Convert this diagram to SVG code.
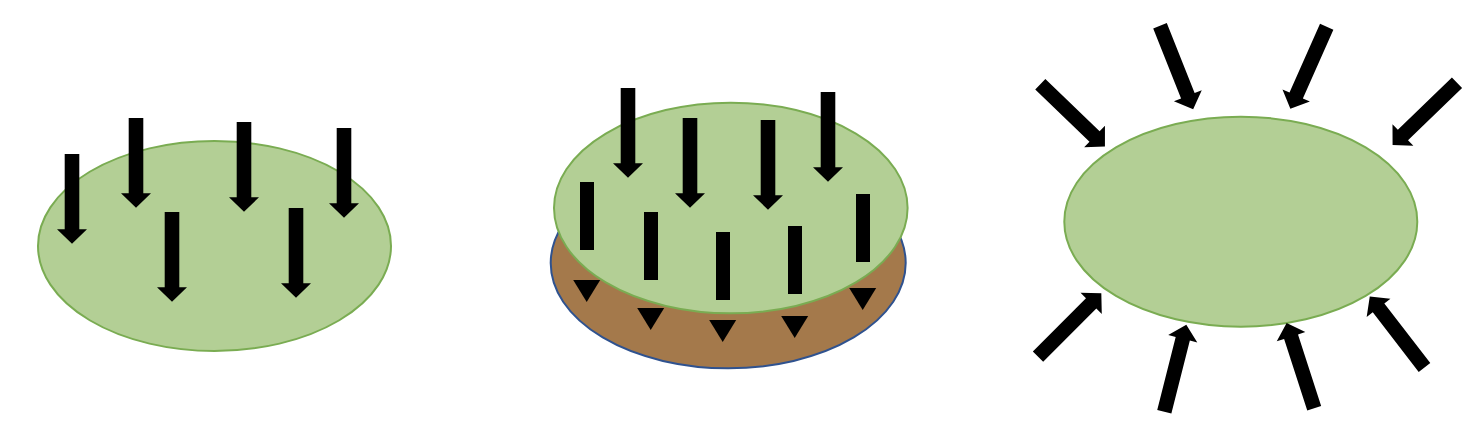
<svg xmlns="http://www.w3.org/2000/svg" xmlns:xlink="http://www.w3.org/1999/xlink" width="1468" height="426" viewBox="0 0 1468 426">
<style>
.leaf{fill:#b3cf95;stroke:#7aac52;stroke-width:2}
.soil{fill:#a4794b;stroke:#2f528f;stroke-width:2}
.blk{fill:#000}
</style>
<defs>
<path id="arr" class="blk" d="M0,-7.3 H75.3 V-15 L89.7,0 L75.3,15 V7.3 H0 Z"/>
<path id="tri" class="blk" d="M-13.5,0 H13.5 L0,22 Z"/>
</defs>
<rect width="1468" height="426" fill="#fff"/>

<g id="leaf-left">
<ellipse class="leaf" cx="214.5" cy="246" rx="176.5" ry="105"/>
<g id="left-arrows">
<use xlink:href="#arr" transform="translate(72,154) rotate(90)"/>
<use xlink:href="#arr" transform="translate(136,118) rotate(90)"/>
<use xlink:href="#arr" transform="translate(172,212) rotate(90)"/>
<use xlink:href="#arr" transform="translate(244,122) rotate(90)"/>
<use xlink:href="#arr" transform="translate(296,208) rotate(90)"/>
<use xlink:href="#arr" transform="translate(344,128) rotate(90)"/>
</g>
</g>

<g id="leaf-middle">
<ellipse class="soil" cx="728.2" cy="263" rx="177.5" ry="105.3"/>
<ellipse class="leaf" cx="730.8" cy="208" rx="176.8" ry="105.3"/>
<g id="middle-arrows">
<use xlink:href="#arr" transform="translate(628,88) rotate(90)"/>
<use xlink:href="#arr" transform="translate(690,118) rotate(90)"/>
<use xlink:href="#arr" transform="translate(768,120) rotate(90)"/>
<use xlink:href="#arr" transform="translate(828,92) rotate(90)"/>
<rect class="blk" x="580" y="182" width="14" height="68"/>
<rect class="blk" x="644" y="212" width="14" height="68"/>
<rect class="blk" x="716" y="232" width="14" height="68"/>
<rect class="blk" x="788" y="226" width="14" height="68"/>
<rect class="blk" x="856" y="194" width="14" height="68"/>
<use xlink:href="#tri" transform="translate(586.7,280)"/>
<use xlink:href="#tri" transform="translate(650.7,308)"/>
<use xlink:href="#tri" transform="translate(722.7,320)"/>
<use xlink:href="#tri" transform="translate(794.7,316)"/>
<use xlink:href="#tri" transform="translate(862.7,288)"/>
</g>
</g>

<g id="leaf-right">
<ellipse class="leaf" cx="1240.8" cy="221.7" rx="176.5" ry="105"/>
<g id="right-arrows">
<use xlink:href="#arr" transform="translate(1040.3,84.3) rotate(43.9)"/>
<use xlink:href="#arr" transform="translate(1160,25.8) rotate(68.3)"/>
<use xlink:href="#arr" transform="translate(1326.7,26.7) rotate(113.9)"/>
<use xlink:href="#arr" transform="translate(1457,82.7) rotate(135.9)"/>
<use xlink:href="#arr" transform="translate(1038,356.7) rotate(-45.1)"/>
<use xlink:href="#arr" transform="translate(1164.3,411.7) rotate(-75.8)"/>
<use xlink:href="#arr" transform="translate(1314.2,408.3) rotate(-107.9)"/>
<use xlink:href="#arr" transform="translate(1424.5,367.5) rotate(-127.6)"/>
</g>
</g>
</svg>
